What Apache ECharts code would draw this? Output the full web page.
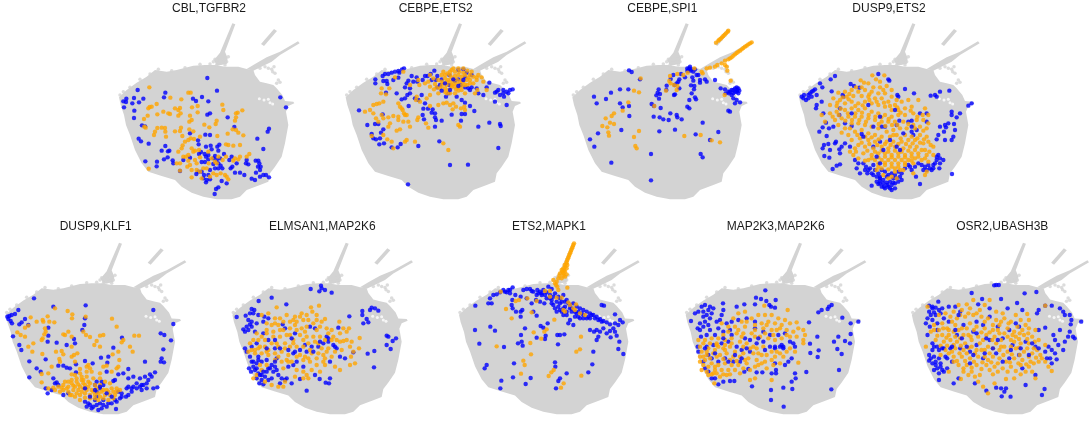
<!DOCTYPE html>
<html><head><meta charset="utf-8">
<style>html,body{margin:0;padding:0;background:#fff}#c{width:1091px;height:421px}</style>
<script src="https://cdn.jsdelivr.net/npm/echarts@6/dist/echarts.min.js"></script>
</head><body><div id="c"></div>
<script>
const titles=["CBL,TGFBR2","CEBPE,ETS2","CEBPE,SPI1","DUSP9,ETS2","DUSP9,KLF1","ELMSAN1,MAP2K6","ETS2,MAPK1","MAP2K3,MAP2K6","OSR2,UBASH3B"];
const body=[[57,292],[80,270],[110,248],[140,230],[165,210],[200,215],[230,210],[280,197],[315,195],[345,195],[375,200],[415,200],[440,207],[460,210],[465,225],[480,245],[500,250],[520,255],[530,265],[547,285],[555,303],[580,305],[583,310],[565,318],[558,335],[565,375],[555,430],[545,470],[525,500],[510,520],[505,545],[480,555],[440,570],[420,590],[395,598],[350,598],[310,590],[275,578],[245,560],[225,540],[185,528],[145,515],[125,490],[105,450],[90,405],[78,375],[72,345],[62,315]];
const stalk=[[397,70],[406,73],[375,155],[383,175],[380,192],[350,197],[342,180],[360,158]];
const arm2=[[522,87],[531,93],[492,138],[483,132]];
const arm3=[[594,124],[599,130],[540,165],[515,185],[495,195],[460,212],[440,207],[465,192],[500,172],[540,155]];
const greyDots=[345,178,340,185,350,195,360,190,372,178,380,185,385,170,470,200,505,205,515,208,522,200,518,215,525,220,535,240,540,247,530,250,495,200,480,205,60,285,70,275,90,262,120,238,150,222,175,208,215,212,255,203,300,193,330,192,350,180,375,195];
const holes=[478,296,492,300,505,298,510,308,518,312];
const shiftX=[0,-10,-20,0,-40,-35,-30,-25,25];
const gridLeft=[100,330,560,780,0,225,450,675,885];
const gridTop=[0,0,0,0,215,215,215,215,215];
const titleX=[204,430.7,657.3,884,90.7,317.3,544,770.7,997.3];
const titleY=[-2,-2,-2,-2,216,216,216,216,216];

const blue1=[322,234,113,270,196,278,351,272,541,292,558,322,192,292,79,296,102,294,130,296,70,304,78,306,97,310,117,307,72,322,279,296,306,291,288,303,325,304,103,332,102,354,126,376,135,379,383,352,330,340,322,344,403,381,507,386,503,395,330,405,316,404,270,400,472,416,116,416,123,424,146,431,490,447,196,438,358,434,352,440,332,437,318,440,294,421,296,433,208,452,204,454,185,452,171,485,170,499,136,484,203,472,192,478,218,481,220,490,240,513,250,480,314,462,318,470,325,478,335,448,345,468,355,452,360,475,372,462,350,480,340,492,362,497,355,505,367,505,305,486,315,486,330,510,295,515,289,522,310,535,320,540,330,538,318,547,355,562,348,567,344,582,365,543,380,550,392,505,397,500,410,490,405,518,420,518,433,525,438,490,440,480,445,493,455,536,465,540,467,482,475,482,478,490,474,500,482,500,468,518,480,510,490,525,498,525,507,532,480,530,388,480,395,470,303,456,297,462,270,473,325,465,340,475,355,490,345,505,325,525,312,525,305,515];
const orange1=[148,262,265,278,272,278,211,293,244,298,367,314,293,318,276,322,149,321,155,320,145,325,225,325,240,324,235,330,170,312,190,335,205,340,210,342,172,343,143,347,132,357,242,340,235,347,293,337,270,347,275,360,268,365,370,330,427,331,413,338,408,340,408,352,405,362,350,362,347,372,313,374,328,382,133,380,137,383,172,384,165,395,185,383,195,384,196,395,225,394,243,383,240,393,268,388,280,394,247,408,272,415,265,420,255,425,282,417,300,410,352,408,383,401,398,388,408,390,415,398,430,406,198,410,162,405,248,436,245,445,235,455,275,445,297,450,285,452,280,455,265,465,250,470,258,470,240,490,230,490,265,482,285,480,300,472,325,455,378,433,385,435,400,437,420,435,448,462,420,470,415,478,405,475,400,482,368,480,350,490,345,485,335,475,326,490,310,505,320,505,290,490,270,495,262,500,275,510,290,510,300,515,340,520,350,525,362,520,375,525,385,538,380,530,330,530,275,532,305,535,240,512,146,506,355,470,378,470,440,470];
const blue2=[222,205,216,208,205,213,195,215,185,218,175,222,165,222,158,228,136,238,136,250,160,243,170,243,172,252,190,240,205,233,208,218,313,212,322,228,302,222,293,228,285,228,278,240,260,232,262,245,245,228,235,242,230,250,225,262,240,265,250,245,305,240,318,240,330,255,322,262,335,238,358,255,385,210,400,208,410,218,425,225,405,232,385,238,358,225,375,243,392,255,405,262,425,262,440,265,445,280,420,270,470,262,478,248,460,285,500,275,505,270,510,285,520,280,530,275,540,270,548,268,520,270,535,280,522,290,495,305,530,315,240,280,232,285,225,295,215,298,200,280,168,278,255,295,265,300,275,285,285,310,348,290,355,280,380,290,395,300,405,308,420,318,433,333,280,326,294,326,308,328,305,338,278,345,282,358,315,340,315,352,318,360,335,362,365,344,395,342,405,342,393,362,315,380,445,380,478,368,510,372,512,378,87,331,158,343,112,375,135,372,145,372,160,388,153,398,125,402,130,415,138,418,150,415,148,433,212,432,203,442,185,442,162,430,265,438,328,424,505,444,360,495,414,494,234,553,495,278,236,318];
const orange2=[340,215,352,220,365,210,375,215,388,215,400,218,412,212,420,225,430,230,440,240,455,232,460,245,345,235,355,240,365,232,375,228,385,225,395,230,410,240,420,240,430,250,340,250,350,255,360,245,370,252,380,250,390,245,400,248,412,255,325,240,315,252,330,265,345,265,355,270,365,262,378,268,385,262,395,270,405,280,375,280,350,280,300,225,310,235,295,245,285,250,300,260,312,268,325,280,300,285,290,295,265,240,268,255,240,255,220,215,195,232,155,265,178,265,153,280,168,283,160,305,148,310,140,312,130,315,120,330,105,335,130,340,155,345,160,355,138,355,145,365,175,352,190,348,205,350,180,370,175,380,205,360,220,365,235,365,240,380,225,345,222,340,218,330,210,320,205,310,215,325,230,345,265,352,262,360,288,370,295,383,270,305,258,300,260,290,300,318,325,315,340,310,350,308,360,315,370,310,378,320,393,325,403,320,368,328,405,330,385,375,390,380,210,388,200,392,172,418,185,425,225,425,230,420,190,445,255,425,340,430,355,450,125,408,160,405,435,280,470,270,442,270,345,225,360,225,370,240,380,238,395,240,405,225,415,232,350,245,365,255,375,260,395,258,405,255,335,245,335,258,320,262,345,275,360,280,385,272,440,232,445,225,335,225,425,215,370,205,385,205,400,205,360,215,420,250];
const blue3=[207,211,215,216,240,238,180,268,205,268,153,278,102,290,138,297,110,310,180,310,188,322,207,318,208,348,184,390,114,400,90,418,103,440,154,488,273,541,273,462,422,462,428,472,296,268,293,278,300,282,289,286,297,296,319,270,320,257,332,237,340,225,344,255,345,283,342,285,358,238,355,245,350,250,358,265,363,222,382,205,388,205,385,212,395,208,400,215,405,208,375,232,410,225,415,225,397,232,400,242,420,240,420,248,435,238,440,245,465,240,393,256,403,258,402,268,395,280,405,292,408,298,388,300,382,320,388,325,275,312,282,318,302,324,281,350,299,352,310,358,331,340,326,360,350,345,352,352,365,358,428,368,345,389,298,394,407,403,475,396,450,420,482,265,495,268,505,275,515,270,525,265,530,262,535,265,507,280,520,280,530,275,520,295,530,300,525,310,540,307,505,332,510,335,497,280,535,280,520,270,525,275,515,285,510,275,532,270,538,272,392,212,382,212,390,200];
const orange3=[505,92,503,95,498,100,494,104,490,108,486,112,482,116,478,119,475,122,468,128,575,127,570,130,565,133,560,137,555,140,550,144,545,148,540,152,535,155,530,159,525,163,520,167,515,172,510,175,505,178,495,182,485,190,472,195,465,200,450,203,440,205,425,215,428,220,500,200,502,212,495,195,512,242,494,285,330,228,352,222,370,225,383,218,403,205,328,243,332,250,342,255,352,258,318,272,350,270,242,235,222,272,237,277,205,307,283,318,188,332,162,340,155,348,137,355,150,368,162,372,127,378,142,382,145,397,147,407,237,393,222,411,226,438,230,445,373,408,422,405,455,421,480,427];
const blue4=[65,290,70,295,72,285,78,300,85,285,90,280,95,275,100,272,105,268,120,250,127,262,110,285,125,305,110,315,108,325,85,295,95,290,165,228,152,238,295,222,212,252,222,258,238,263,325,238,328,242,155,274,188,285,190,290,375,267,402,280,352,285,355,290,465,285,480,275,452,287,470,290,508,272,575,310,565,317,540,340,530,352,515,335,515,345,480,380,495,375,505,370,522,372,525,390,498,382,492,395,475,405,470,418,520,410,515,420,495,420,130,340,138,368,128,382,147,385,160,380,118,395,140,408,168,425,165,430,145,432,132,435,128,445,150,450,185,440,178,448,180,460,195,430,210,440,133,468,148,473,180,493,170,497,158,507,225,480,235,490,230,505,240,520,180,325,178,345,195,370,215,378,245,402,250,490,258,500,265,510,275,520,285,510,295,520,305,510,315,515,325,525,335,520,345,525,355,515,365,520,300,535,290,545,295,552,305,560,315,565,325,560,335,555,345,550,355,545,365,540,310,550,320,548,300,530,330,545,340,535,280,495,385,495,395,510,405,500,415,490,425,495,435,500,450,505,460,495,470,480,480,475,490,480,470,470,480,490,455,510,440,510,420,552,275,557,335,570,345,565,516,522,478,505,408,530,300,425,305,380,315,380,400,405,395,395,410,390,350,375,358,362,385,365,395,362,420,340,440,365,280,440,440,340,255,510,270,505,290,530,280,525,310,540,320,530,350,535,360,530,300,550,312,560,330,565,322,555,340,548,300,542,262,520,375,505,390,500,445,495,465,490,475,465,460,505,430,510];
const orange4=[242,241,277,226,313,226,300,245,265,250,245,262,280,262,300,262,320,258,335,270,175,278,195,275,215,270,235,275,255,270,275,275,295,280,315,280,335,290,350,300,160,295,180,300,200,290,220,288,245,288,265,290,285,295,305,295,325,305,345,315,365,305,385,300,415,300,150,315,170,318,195,310,215,305,235,310,255,305,275,310,295,315,315,320,335,330,355,330,375,325,395,320,125,345,150,340,170,335,195,330,215,325,235,330,255,325,275,335,295,340,315,345,335,350,355,345,375,345,400,340,435,325,445,345,135,365,165,360,185,355,205,350,225,350,245,350,265,355,285,360,305,365,325,365,345,365,370,365,410,360,430,360,445,370,175,375,195,385,215,370,235,370,255,375,275,380,295,385,320,395,340,390,360,385,380,385,400,375,420,380,440,385,205,405,225,395,245,390,265,400,285,405,305,410,330,410,350,405,375,405,420,405,440,410,215,420,240,415,265,420,285,425,320,425,340,425,365,425,385,420,405,420,430,430,445,425,210,455,235,435,255,440,280,445,305,440,325,445,345,440,370,445,390,440,410,440,435,450,460,440,220,465,250,460,275,465,295,460,315,460,335,465,355,460,375,465,395,460,415,460,440,465,460,465,265,480,285,480,305,480,325,480,345,480,365,480,385,480,405,475,425,480,445,485,255,482,295,500,315,495,335,500,355,500,375,495,290,510,310,525,325,535,345,515,370,510,400,520,435,525,440,515,400,490,188,292,208,282,228,262,252,248,288,238,310,270,268,283,172,308,206,298,226,318,248,316,268,300,290,305,312,308,330,318,352,322,182,326,204,340,226,340,246,338,266,345,286,350,304,352,326,357,362,338,392,332,412,350,428,345,158,350,176,345,196,362,216,360,238,360,258,365,296,372,316,378,336,375,352,375,385,372,405,385,430,392,185,398,210,385,232,405,256,410,275,412,296,418,340,405,362,415,395,410,412,415,432,418,452,435,225,445,245,428,268,432,292,435,315,432,332,435,355,432,378,432,398,430,420,428,228,455,262,452,285,455,305,452,325,455,345,452,365,455,385,452,405,450,425,450,448,455,235,475,275,475,295,472,315,470,335,472,355,470,375,472,395,470,415,470,435,475,295,490,315,488,335,490,355,490,375,488,395,482,305,505,325,508,345,505,360,510,335,530,350,535];
const top4=[300,350,345,330,280,380,330,420,370,400,395,380,250,410,310,450,360,450,290,470,215,340,265,315,350,440,300,490];
const blue5=[102,250,257,271,160,275,460,285,520,327,22,305,28,303,35,300,45,297,55,285,25,312,32,318,36,325,58,328,65,322,75,312,85,330,39,364,58,390,64,405,255,310,253,330,247,345,145,338,145,362,143,380,170,383,200,390,222,372,225,385,366,368,340,398,482,355,493,360,513,376,490,403,485,430,482,440,492,442,435,440,88,439,137,433,110,460,122,470,88,487,175,452,190,452,200,458,210,460,228,448,255,438,278,445,325,425,322,443,303,428,228,472,160,490,165,505,170,502,175,510,137,520,143,535,155,525,190,540,205,535,385,462,370,475,355,478,345,495,340,498,320,470,385,490,400,485,420,490,435,485,450,478,465,472,455,485,445,495,440,505,430,510,420,515,410,520,400,515,385,515,380,520,395,530,378,545,385,540,365,535,355,530,360,550,345,555,335,565,348,582,320,575,305,580,295,585,300,565,280,575,270,570,265,565,255,560,285,555,310,555,290,500,285,510,310,510,300,520,290,530,460,520,472,517,440,520,425,525,260,575,275,580,290,570,310,570,325,565,350,560,365,545,290,545,305,500,410,505,425,510,395,520];
const orange5=[92,307,143,304,165,280,203,288,217,298,216,310,257,305,336,311,350,335,110,320,128,315,130,320,148,320,163,322,85,332,75,338,52,352,62,360,135,340,137,350,133,358,128,370,125,375,75,365,100,385,85,395,97,410,127,417,168,410,185,408,190,418,195,360,205,350,190,358,215,365,250,350,258,360,270,366,300,362,310,360,403,362,417,362,370,375,365,382,290,378,283,390,300,395,215,395,232,415,222,420,215,425,178,432,180,440,125,477,125,502,145,475,155,455,355,410,390,395,398,410,338,418,358,435,355,455,225,440,265,450,270,460,240,462,215,478,320,452,310,455,350,460,335,470,260,470,275,470,145,520,160,518,175,515,190,510,205,515,220,512,235,508,250,505,265,500,280,490,215,495,230,490,245,485,260,485,205,500,190,525,205,530,220,525,235,525,250,520,265,515,275,525,290,520,305,530,320,525,335,520,350,520,360,525,225,545,240,540,255,535,270,540,285,540,300,545,315,540,330,540,345,540,240,555,270,550,295,555,325,555,185,518,210,540,250,495,300,490,315,500,330,505,165,525,180,530,200,520,215,505,230,500,245,495,225,515,240,515,255,510,270,505,285,510,300,510,245,530,260,525,280,530,295,535,310,525,325,530,340,530,230,535,255,548,285,550,310,550,340,550,350,530,215,540,195,500,225,480,240,475,260,455,300,475];
const top5=[285,525,300,515,320,535,270,545,335,545,255,520];
const blue6=[257,222,288,212,290,220,283,229,300,225,320,233,140,248,101,258,184,268,80,282,88,285,75,295,62,302,35,306,85,295,100,300,95,325,70,315,80,320,75,328,65,335,55,343,70,345,60,350,80,335,90,350,118,305,115,320,130,310,173,328,210,355,270,340,255,335,340,338,412,288,412,300,440,278,435,285,450,280,460,287,415,325,425,312,430,322,373,304,485,362,490,365,513,370,503,378,485,390,497,402,448,408,428,416,447,457,385,412,60,400,65,410,80,395,75,425,80,440,72,460,78,470,85,455,95,445,100,435,90,465,100,475,110,480,120,485,130,495,140,490,95,490,110,495,125,470,130,460,140,450,150,455,155,465,145,470,160,480,170,490,180,495,165,505,115,508,103,505,110,440,125,435,155,430,190,455,205,450,215,440,235,455,210,410,205,415,240,390,260,395,280,395,295,385,310,380,325,390,335,400,345,425,360,430,315,440,245,410,305,365,310,370,180,340,150,400,130,375,115,355,95,385,284,492,315,490,302,503,312,505,245,527,225,492,200,505,185,490,270,480];
const orange6=[155,277,258,277,282,272,110,300,130,295,150,310,165,310,185,300,210,305,230,295,245,300,262,290,275,300,300,312,235,315,215,320,195,320,125,325,140,330,160,330,175,345,195,340,210,330,230,340,245,335,265,325,285,335,305,340,320,345,343,320,355,340,372,340,365,350,345,355,355,378,380,380,404,369,402,400,385,410,378,425,390,445,375,450,345,465,330,455,300,430,280,415,95,355,110,365,125,355,145,350,165,365,185,360,205,375,225,360,245,365,265,365,285,365,300,375,325,365,335,375,85,375,75,385,100,400,120,395,140,385,160,395,180,385,195,395,215,395,235,375,250,385,270,380,290,400,310,400,330,410,350,405,375,395,70,410,90,415,110,415,130,420,150,415,170,410,190,420,225,420,240,425,260,415,275,430,295,420,320,425,105,450,125,450,170,440,185,435,200,440,235,435,255,440,275,450,300,450,110,465,175,460,215,465,235,470,260,465,285,470,210,485,235,490,250,490,95,480,85,490,140,510,160,515,175,515,180,500,120,500,245,480,120,375,100,375,80,405,105,395,130,405,155,385,180,400,205,385,235,395,255,405,280,385,305,410,320,375,345,380,365,375,310,355,275,345,240,350,215,345,195,360,165,345,145,365,125,345,150,325,175,320,205,315,225,305,250,315,275,315,290,320,90,405,150,435,190,440,215,425,250,430,295,440,125,410,160,425];
const top6=[100,425,125,400,165,400,190,405,225,405,265,410,285,380,330,395,150,375,200,370,85,440,135,460,150,440,115,470,95,460,105,480];
const blue7=[76,272,75,345,88,386,121,335,135,347,162,396,204,385,215,380,213,360,218,392,225,340,192,445,110,450,104,460,189,487,154,497,151,520,227,507,242,489,130,240,140,238,150,232,160,225,170,232,180,225,188,217,125,265,115,265,120,250,180,235,196,240,212,245,187,255,185,270,188,280,198,290,212,290,212,305,217,285,245,265,250,290,260,302,220,225,230,222,240,222,245,228,262,225,270,230,280,225,295,215,305,222,260,240,275,240,290,250,230,250,258,255,270,260,283,265,300,240,315,235,325,245,340,240,305,255,320,260,335,260,350,255,310,270,325,275,345,275,360,270,370,265,380,275,390,280,400,285,410,290,420,295,430,300,440,305,450,312,460,318,470,322,395,295,380,295,365,290,350,290,335,290,375,305,390,310,410,310,360,315,355,325,370,330,455,270,462,272,495,298,510,315,518,322,495,325,480,328,505,330,490,340,480,348,495,350,500,362,482,367,470,355,450,350,460,340,440,345,445,365,440,375,432,350,420,345,330,360,322,360,343,358,324,388,508,380,505,402,520,417,430,410,427,448,415,472,315,442,316,455,350,475,330,490,325,498,318,520,280,338,272,333,293,325,287,362,285,372,260,368,305,265,315,280,330,265,340,280,355,265,365,280,375,290,385,290,400,300,415,305,425,300,435,310,445,315,455,320,300,250,310,245,330,250,345,260,360,280,350,300,340,300,330,285,320,290,385,305,400,310,420,310,275,235,285,240,290,232,265,235,250,230,165,230,175,225];
const orange7=[372,85,370,90,368,95,366,100,364,105,362,110,360,115,358,120,356,125,354,130,352,135,350,140,349,145,344,150,346,155,340,160,343,165,337,170,340,175,345,170,352,150,330,175,350,178,328,182,340,182,335,190,345,185,325,190,320,200,315,205,318,210,322,215,325,225,310,195,335,165,350,160,352,218,300,228,285,228,152,230,197,258,207,255,232,250,260,258,168,282,245,292,185,310,300,245,320,248,335,248,355,262,360,270,345,290,340,285,370,280,375,285,390,295,378,268,405,300,313,314,290,343,283,350,251,352,241,384,274,371,393,365,140,394,243,418,220,437,224,450,213,476,379,410,390,403,311,465,304,472,296,483,394,482,341,505,333,518];
const blue8=[271,226,243,248,258,252,274,258,302,255,240,268,208,268,185,275,283,270,288,275,300,278,144,265,105,275,90,270,80,275,100,285,85,290,70,290,60,295,115,280,145,285,110,295,95,300,85,305,140,300,48,318,75,325,90,320,105,310,125,320,135,315,68,340,75,345,85,335,100,330,105,345,130,340,155,325,170,320,190,315,215,310,240,320,78,365,95,360,120,360,145,350,165,345,170,360,430,292,440,285,458,282,462,275,470,270,402,322,502,308,550,320,527,325,527,357,490,365,477,380,510,378,525,385,487,402,500,417,405,386,406,414,431,406,428,426,427,365,492,465,469,523,394,471,360,475,362,490,350,500,352,522,325,518,288,525,288,555,326,575,231,514,303,465,303,475,290,475,262,472,245,472,220,462,208,470,130,508,145,500,165,498,178,498,120,490,110,490,100,470,90,460,85,440,70,410,68,395,95,395,115,390,140,385,160,380,185,395,210,370,225,375,245,385,265,380,285,395,300,400,315,395,325,400,320,390,345,380,355,385,360,395,310,360,330,355,285,360,265,350,240,340,350,430,340,440,330,450,300,445,225,410,200,405,195,440,175,440,150,430,130,440,110,430,100,420];
const orange8=[268,272,338,285,210,290,190,295,250,300,270,300,290,300,310,310,330,315,345,325,365,322,175,310,200,320,230,310,260,325,280,320,300,325,320,330,140,325,160,335,180,335,210,335,240,345,265,340,290,345,315,340,335,345,370,340,385,345,390,360,145,360,185,355,205,355,230,355,255,365,280,370,300,375,320,370,345,365,365,365,385,375,70,375,90,375,110,370,130,370,150,375,170,370,195,380,215,385,235,395,265,395,290,410,315,415,335,410,360,410,385,385,75,395,80,410,100,400,120,405,145,400,165,395,180,410,205,415,250,415,275,420,300,425,325,425,370,443,75,425,95,420,115,415,135,420,155,415,175,425,195,425,220,430,245,435,270,440,295,450,90,435,110,445,130,450,150,445,170,450,190,450,215,445,260,445,275,460,85,450,100,455,120,465,140,465,160,465,180,465,205,460,100,480,115,475,135,485,155,480,240,490,290,495,118,505,225,495,120,455,85,385,105,385,125,390,150,390,170,385,95,410,125,425,145,432,165,435,185,438,210,435,235,415,105,430,75,440,80,465,95,470,110,478,125,475,145,478,165,478,195,475,130,395,85,425,205,395,225,400,245,400,200,365,240,365,270,355,295,360,335,360,355,350,305,345,275,330,240,330,215,320,190,345,160,350,125,385,150,405,260,420,305,410,345,400,240,455,225,465,250,450,290,435,315,445];
const top8=[120,415,160,440,200,430,90,400,145,370,250,370,300,395,325,395,180,420,215,400,270,405];
const blue9=[334,211,340,210,348,210,265,234,427,235,463,231,297,252,355,252,404,264,163,260,135,272,145,275,155,278,135,290,150,292,165,285,175,280,195,275,215,275,230,290,285,268,320,280,375,280,420,285,465,295,470,285,490,272,510,272,535,280,545,290,550,300,565,300,600,320,570,315,568,328,130,310,125,325,145,315,160,325,180,310,195,320,137,335,490,338,535,345,565,350,560,365,575,365,580,370,130,360,160,345,470,345,515,360,520,375,550,380,530,390,545,405,500,395,510,405,520,415,490,410,525,433,495,430,505,430,510,445,145,385,150,395,165,405,135,420,150,425,165,430,135,437,145,445,155,450,170,455,150,465,165,475,180,470,190,460,165,495,210,505,225,490,275,505,310,527,355,520,340,518,370,520,365,530,357,544,384,545,430,510,480,540,488,522,460,480,420,460,300,430,340,415,380,430,410,420,230,400,200,400,180,400,220,360,270,350,300,330,345,335,360,370,390,390,260,410,280,390,320,375,240,330,430,380,460,395,320,305,380,345,410,335,205,440,185,425,140,430,155,440,160,460,170,445,175,465,145,405,160,395,140,300,145,280,155,300,170,295];
const orange9=[320,255,270,255,250,268,225,270,130,275,490,272,165,300,185,295,210,290,235,285,260,280,290,285,305,270,340,290,360,295,400,300,435,297,150,330,175,325,200,305,220,310,245,305,270,300,295,305,315,310,340,315,365,310,385,320,415,315,440,315,165,345,190,340,215,330,235,340,260,325,280,335,305,340,330,345,350,330,375,340,395,350,420,345,440,340,460,345,140,350,175,360,195,360,210,350,240,360,255,360,285,365,310,360,335,365,350,355,375,365,400,365,425,360,450,365,470,375,155,375,180,380,200,375,220,380,245,385,265,375,290,385,315,395,340,385,365,395,395,380,415,385,440,385,465,405,490,390,125,395,170,420,195,415,215,400,240,405,265,395,295,405,320,415,350,405,375,410,400,400,425,410,450,415,475,420,210,425,235,425,260,430,285,425,315,435,350,430,370,440,395,430,420,435,445,440,470,440,490,440,500,455,225,450,250,450,280,450,310,450,335,455,360,460,385,455,415,450,440,455,455,445,510,468,195,470,240,470,265,470,290,480,330,478,370,492,395,490,415,478,460,490,232,492,285,500,300,515,315,535,335,505,150,345,178,340,205,320,230,300,255,295,280,295,305,320,330,330,355,320,378,325,405,335,430,330,195,345,225,345,250,340,272,345,295,352,320,352,345,345,365,355,390,360,412,355,438,355,160,362,188,368,215,365,230,370,262,365,300,375,328,375,355,375,385,375,410,372,435,372,458,380,170,392,190,392,210,390,232,392,255,398,280,405,305,405,330,400,355,395,385,395,410,398,435,400,455,400,185,405,205,410,228,415,250,415,275,415,305,425,330,425,362,420,388,418,412,420,440,425,462,428,220,438,245,438,272,440,298,442,325,442,345,445,382,442,408,445,432,448,480,430,240,460,265,458,295,462,320,465,345,470,375,470,400,468,430,470,450,470,210,440,275,485,255,480];
const top9=[215,345,235,370,280,355,310,370,345,375,385,405,415,400,450,385,205,395,260,445,305,415,360,440,440,420,175,400,190,430,250,395,330,400,280,320,400,325,470,400,225,300,270,420];
const top2=[370,238,345,250,400,240,385,258,360,270,335,272,415,265];

const blues=[blue1,blue2,blue3,blue4,blue5,blue6,blue7,blue8,blue9];
const oranges=[orange1,orange2,orange3,orange4,orange5,orange6,orange7,orange8,orange9];
const tops=[[],top2,[],top4,top5,top6,[],top8,top9];
const pairs=a=>{const r=[];for(let i=0;i<a.length;i+=2)r.push([a[i],a[i+1]]);return r;};
const GREY='#D3D3D3',BLUE='#0000FF',ORANGE='#FFA500',DOT=4.4;
const grid=[],xAxis=[],yAxis=[],series=[],title=[];
titles.forEach((t,i)=>{
  const dx=shiftX[i],low=i>=4;
  const place=p=>[p[0]+dx,low?14.8+0.975*p[1]:p[1]];
  grid.push({left:gridLeft[i],top:gridTop[i],width:210,height:200,containLabel:false});
  xAxis.push({type:'value',gridIndex:i,min:0,max:630,show:false});
  yAxis.push({type:'value',gridIndex:i,min:0,max:600,inverse:true,show:false});
  title.push({text:t,left:titleX[i],top:titleY[i],textAlign:'center',textStyle:{fontFamily:'Liberation Sans',fontSize:12,fontWeight:'normal',color:'#1a1a1a'}});
  const polys=[body,stalk,arm2,arm3].map(s=>s.map(place));
  const base={xAxisIndex:i,yAxisIndex:i,silent:true,animation:false};
  series.push({...base,type:'custom',coordinateSystem:'cartesian2d',clip:false,data:polys.map((_,k)=>[k,k]),
    renderItem:(params,api)=>({type:'polygon',shape:{points:polys[params.dataIndex].map(p=>api.coord(p))},style:{fill:GREY}})});
  series.push({...base,type:'scatter',clip:false,symbolSize:3.5,itemStyle:{color:GREY},data:pairs(greyDots).map(place)});
  series.push({...base,type:'scatter',clip:false,symbolSize:3,itemStyle:{color:'#fff'},data:pairs(holes).map(place)});
  series.push({...base,type:'scatter',clip:false,symbolSize:DOT,itemStyle:{color:BLUE},data:pairs(blues[i])});
  series.push({...base,type:'scatter',clip:false,symbolSize:DOT,itemStyle:{color:ORANGE},data:pairs(oranges[i])});
  series.push({...base,type:'scatter',clip:false,symbolSize:DOT,itemStyle:{color:BLUE},data:pairs(tops[i])});
});
const chart=echarts.init(document.getElementById('c'),null,{renderer:'canvas'});
chart.setOption({animation:false,backgroundColor:'#fff',title,grid,xAxis,yAxis,series});
</script></body></html>
